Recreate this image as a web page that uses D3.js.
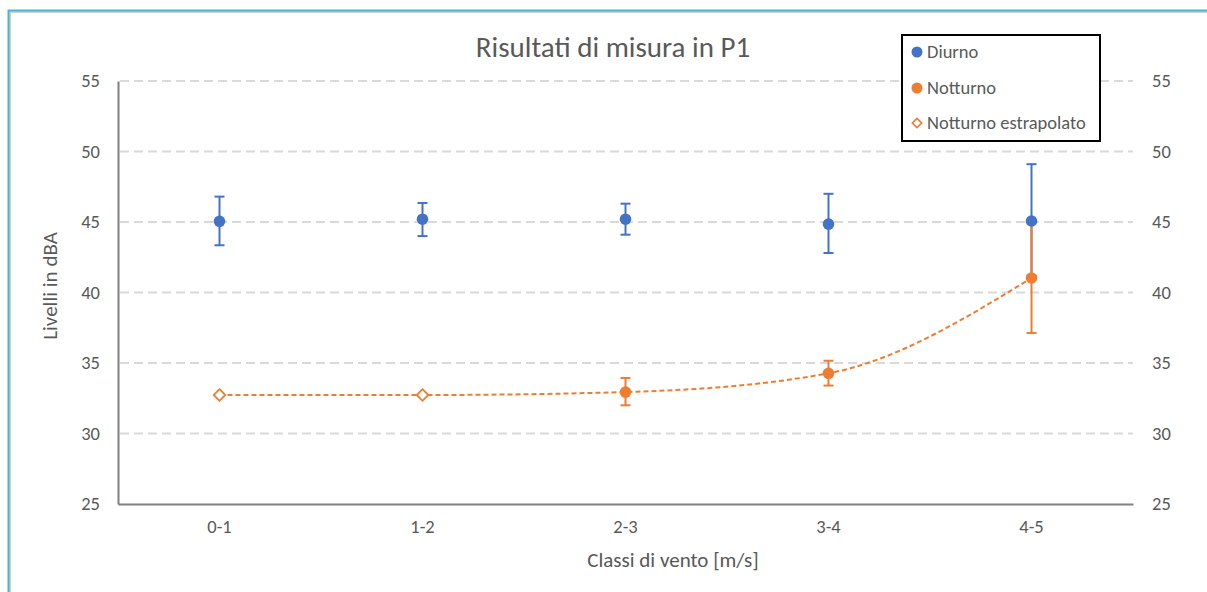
<!DOCTYPE html>
<html><head><meta charset="utf-8">
<script src="https://cdn.jsdelivr.net/npm/d3@7"></script>
<style>
html,body{margin:0;padding:0;background:#fff;}
svg{display:block;}
text{font-family:Carlito,Lato,"Open Sans",sans-serif;fill:#595959;}
</style></head><body>
<script>
const categories = ["0-1","1-2","2-3","3-4","4-5"];
const diurno = [45.05, 45.2, 45.2, 44.85, 45.07];
const diurnoUp = [46.8, 46.35, 46.3, 47.0, 49.1];
const diurnoLow = [43.35, 44.0, 44.1, 42.8, 41.2];
const notturnoCats = ["2-3","3-4","4-5"];
const notturno = [32.94, 34.27, 41.03];
const notturnoUp = [33.94, 35.16, 44.9];
const notturnoLow = [32.0, 33.4, 37.13];
const estrapCats = ["0-1","1-2"];
const estrapolato = [32.73, 32.73];
const yTicks = [25,30,35,40,45,50,55];
const title = "Risultati di misura in P1";
const xTitle = "Classi di vento [m/s]";
const yTitle = "Livelli in dBA";
const legendLabels = ["Diurno","Notturno","Notturno estrapolato"];

const W=1207,H=592;
const blue="#4472C4", orange="#ED7D31";
const svg=d3.select("body").append("svg").attr("width",W).attr("height",H);

// frame
svg.append("path").attr("d","M9.5,592 V11.5 H1207").attr("fill","none").attr("stroke","#d0d0d0").attr("stroke-width",3);
svg.append("path").attr("d","M8.5,592 V10.5 H1207").attr("fill","none").attr("stroke","#4bb5cf").attr("stroke-width",2);

const L=118,R=1133,T=81,B=504;
const x=d3.scaleBand().domain(categories).range([L,R]);
const cx=c=>x(c)+x.bandwidth()/2;
const y=d3.scaleLinear().domain([25,55]).range([B,T]);

// gridlines
svg.append("g").selectAll("line").data(yTicks.filter(t=>t>25)).join("line")
 .attr("x1",L+2).attr("x2",R).attr("y1",d=>y(d)).attr("y2",d=>y(d))
 .attr("stroke","#d9d9d9").attr("stroke-width",2).attr("stroke-dasharray","9,5");

// axes
const yl=svg.append("g").attr("transform",`translate(${L},0)`).call(d3.axisLeft(y).tickValues(yTicks).tickSize(0).tickPadding(18));
yl.select(".domain").attr("stroke","#808080").attr("stroke-width",2);
const yr=svg.append("g").attr("transform",`translate(${R},0)`).call(d3.axisRight(y).tickValues(yTicks).tickSize(0).tickPadding(19));
yr.select(".domain").remove();
const xa=svg.append("g").attr("transform",`translate(0,${B})`).call(d3.axisBottom(x).tickSize(0).tickPadding(16));
xa.select(".domain").attr("stroke","#808080").attr("stroke-width",2);
svg.selectAll(".tick text").attr("font-size",18.5).attr("fill","#595959").style("font-family","Carlito,Lato,sans-serif");

// titles
svg.append("text").attr("x",613).attr("y",57).attr("text-anchor","middle").attr("font-size",29).text(title);
svg.append("text").attr("x",673).attr("y",567).attr("text-anchor","middle").attr("font-size",21).text(xTitle);
svg.append("text").attr("transform","translate(57,286) rotate(-90)").attr("text-anchor","middle").attr("font-size",21).text(yTitle);

// trend curve
const curvePts=estrapCats.map((c,i)=>[cx(c),y(estrapolato[i])]).concat(notturnoCats.map((c,i)=>[cx(c),y(notturno[i])]));
svg.append("path").attr("d",d3.line().curve(d3.curveMonotoneX)(curvePts)).attr("fill","none")
 .attr("stroke",orange).attr("stroke-width",2).attr("stroke-dasharray","5,3");

function errBars(cats,up,low,col){
  const g=svg.append("g").attr("stroke",col).attr("stroke-width",2);
  cats.forEach((c,i)=>{
    const xx=cx(c);
    g.append("line").attr("x1",xx).attr("x2",xx).attr("y1",y(up[i])).attr("y2",y(low[i]));
    g.append("line").attr("x1",xx-5).attr("x2",xx+5).attr("y1",y(up[i])).attr("y2",y(up[i]));
    g.append("line").attr("x1",xx-5).attr("x2",xx+5).attr("y1",y(low[i])).attr("y2",y(low[i]));
  });
}
errBars(categories,diurnoUp,diurnoLow,blue);
errBars(notturnoCats,notturnoUp,notturnoLow,orange);

svg.append("g").selectAll("circle").data(notturnoCats).join("circle")
 .attr("cx",d=>cx(d)).attr("cy",(d,i)=>y(notturno[i])).attr("r",5.8).attr("fill",orange);
svg.append("g").selectAll("circle").data(categories).join("circle")
 .attr("cx",d=>cx(d)).attr("cy",(d,i)=>y(diurno[i])).attr("r",5.8).attr("fill",blue);
const diamond=d3.symbol().type(d3.symbolDiamond2).size(85);
svg.append("g").selectAll("path").data(estrapCats).join("path")
 .attr("transform",(d,i)=>`translate(${cx(d)},${y(estrapolato[i])})`)
 .attr("d",diamond).attr("fill","#fff").attr("stroke",orange).attr("stroke-width",1.8);

// legend
const lg=svg.append("g");
lg.append("rect").attr("x",902).attr("y",35).attr("width",198).attr("height",106).attr("fill","#fff").attr("stroke","#000").attr("stroke-width",2);
const rows=[52,88,123];
lg.append("circle").attr("cx",917).attr("cy",rows[0]).attr("r",5.5).attr("fill",blue);
lg.append("circle").attr("cx",917).attr("cy",rows[1]).attr("r",5.5).attr("fill",orange);
lg.append("path").attr("transform",`translate(917,${rows[2]})`).attr("d",d3.symbol().type(d3.symbolDiamond2).size(55)).attr("fill","#fff").attr("stroke",orange).attr("stroke-width",1.6);
legendLabels.forEach((t,i)=>lg.append("text").attr("x",927).attr("y",rows[i]).attr("dy","0.35em").attr("font-size",18.5).text(t));
</script>
</body></html>
